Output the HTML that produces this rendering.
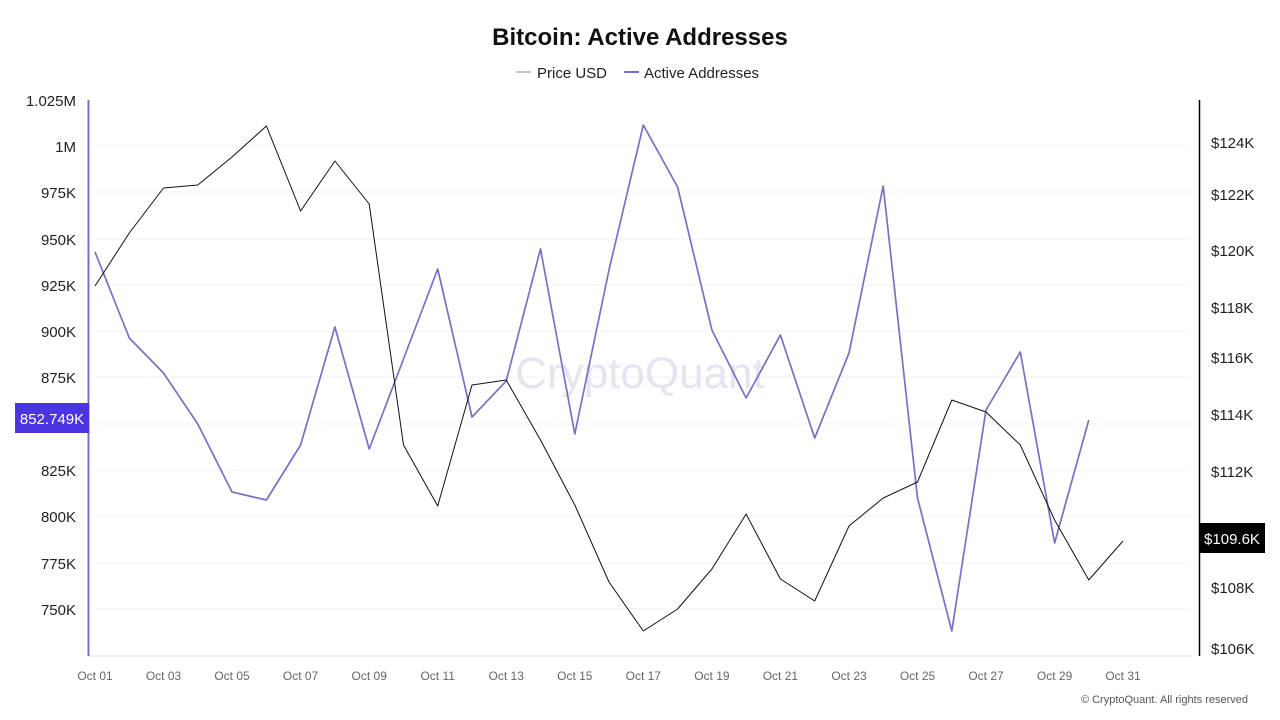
<!DOCTYPE html>
<html><head><meta charset="utf-8"><style>
html,body{margin:0;padding:0;background:#fff;}
svg{display:block;font-family:"Liberation Sans",sans-serif;}
</style></head><body>
<svg width="1280" height="720" viewBox="0 0 1280 720">
<rect width="1280" height="720" fill="#fff"/>
<text x="640" y="45" text-anchor="middle" font-size="24" font-weight="bold" fill="#111">Bitcoin: Active Addresses</text>
<line x1="516" y1="72" x2="531" y2="72" stroke="#888" stroke-width="1"/>
<text x="537" y="78" font-size="15" fill="#222">Price USD</text>
<line x1="624" y1="72" x2="639" y2="72" stroke="#7b6fc4" stroke-width="2"/>
<text x="644" y="78" font-size="15" fill="#222">Active Addresses</text>
<g stroke="#f2f2f2" stroke-width="1">
<line x1="95" y1="146" x2="1190" y2="146"/><line x1="95" y1="192" x2="1190" y2="192"/>
<line x1="95" y1="239" x2="1190" y2="239"/><line x1="95" y1="285" x2="1190" y2="285"/>
<line x1="95" y1="331" x2="1190" y2="331"/><line x1="95" y1="377" x2="1190" y2="377"/>
<line x1="95" y1="424" x2="1190" y2="424"/><line x1="95" y1="470" x2="1190" y2="470"/>
<line x1="95" y1="516" x2="1190" y2="516"/><line x1="95" y1="563" x2="1190" y2="563"/>
<line x1="95" y1="609" x2="1190" y2="609"/>
</g>
<line x1="88" y1="656" x2="1192" y2="656" stroke="#ddd"/>
<line x1="88.5" y1="100" x2="88.5" y2="656" stroke="#7b6fc4" stroke-width="2"/>
<line x1="1199.5" y1="100" x2="1199.5" y2="656" stroke="#000" stroke-width="1.5"/>
<text x="640" y="388" text-anchor="middle" font-size="44" fill="#e6e4f0">CryptoQuant</text>
<g font-size="15" fill="#222" text-anchor="end">
<text x="76" y="106">1.025M</text><text x="76" y="152">1M</text><text x="76" y="198">975K</text>
<text x="76" y="245">950K</text><text x="76" y="291">925K</text><text x="76" y="337">900K</text>
<text x="76" y="383">875K</text><text x="76" y="476">825K</text><text x="76" y="522">800K</text>
<text x="76" y="569">775K</text><text x="76" y="615">750K</text>
</g>
<rect x="15" y="403" width="74" height="30" fill="#4a35e0"/>
<text x="52" y="424" text-anchor="middle" font-size="15" fill="#fff">852.749K</text>
<g font-size="15" fill="#222">
<text x="1211" y="148">$124K</text><text x="1211" y="200">$122K</text><text x="1211" y="256">$120K</text>
<text x="1211" y="313">$118K</text><text x="1211" y="363">$116K</text><text x="1211" y="420">$114K</text>
<text x="1211" y="477">$112K</text><text x="1211" y="593">$108K</text><text x="1211" y="654">$106K</text>
</g>
<rect x="1199" y="523" width="66" height="30" fill="#000"/>
<text x="1232" y="544" text-anchor="middle" font-size="15" fill="#fff">$109.6K</text>
<g font-size="12" fill="#666" text-anchor="middle">
<text x="95" y="680">Oct 01</text><text x="163.5" y="680">Oct 03</text><text x="232" y="680">Oct 05</text>
<text x="300.6" y="680">Oct 07</text><text x="369.2" y="680">Oct 09</text><text x="437.7" y="680">Oct 11</text>
<text x="506.2" y="680">Oct 13</text><text x="574.8" y="680">Oct 15</text><text x="643.3" y="680">Oct 17</text>
<text x="711.9" y="680">Oct 19</text><text x="780.4" y="680">Oct 21</text><text x="849" y="680">Oct 23</text>
<text x="917.5" y="680">Oct 25</text><text x="986" y="680">Oct 27</text><text x="1054.6" y="680">Oct 29</text>
<text x="1123" y="680">Oct 31</text>
</g>
<text x="1248" y="703" text-anchor="end" font-size="11" fill="#555">© CryptoQuant. All rights reserved</text>
<polyline fill="none" stroke="#7b6fc4" stroke-width="1.7" stroke-linejoin="round" points="95,252 129.3,338 163.5,373 197.8,424 232,492 266.4,500 300.6,445 334.9,327 369.2,449 403.5,359 437.7,269 472,417 506.2,381 540.5,249 574.8,434 609,270 643.3,125 677.6,187 711.9,330 746.1,398 780.4,335 814.7,438 849,353 883.2,186 917.5,498 951.8,631 986,410 1020.3,352 1054.6,543 1088.8,420"/>
<polyline fill="none" stroke="#111" stroke-width="1" stroke-linejoin="round" points="95,286 129.3,233 163.5,188 197.8,185 232,157 266.4,126 300.6,211 334.9,161 369.2,204 403.5,445 437.7,506 472,385 506.2,380 540.5,440 574.8,505 609,582 643.3,631 677.6,609 711.9,569 746.1,514 780.4,579 814.7,601 849,526 883.2,498 917.5,482 951.8,400 986,412 1020.3,445 1054.6,520 1088.8,580 1123,541"/>
</svg>
</body></html>
